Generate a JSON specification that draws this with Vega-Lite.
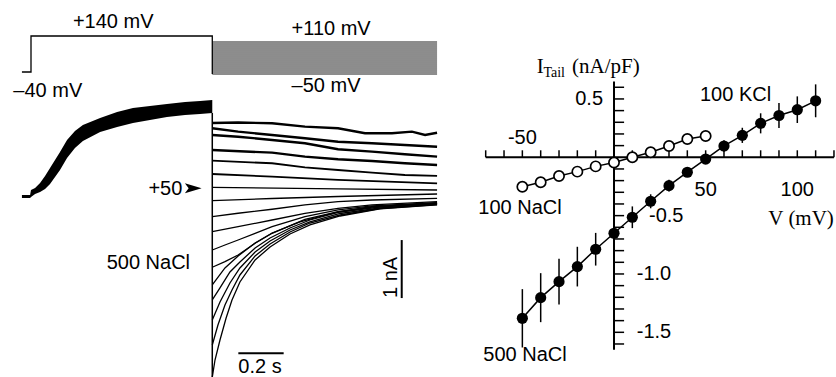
{
  "$schema": "https://vega.github.io/schema/vega-lite/v6.json",
  "padding": 0,
  "autosize": {"type": "pad"},
  "spacing": 0,
  "background": "white",
  "config": {
    "view": {"stroke": null},
    "axis": {"disable": true},
    "text": {"font": "Liberation Sans", "fontSize": 20, "color": "black"}
  },
  "datasets": {
    "step": [
      {"k": 0, "t": -0.04, "v": -40},
      {"k": 1, "t": 0, "v": -40},
      {"k": 2, "t": 0, "v": 140},
      {"k": 3, "t": 0.8, "v": 140},
      {"k": 4, "t": 0.8, "v": -50}
    ],
    "fam": [
      {"v": -50}, {"v": -40}, {"v": -30}, {"v": -20}, {"v": -10}, {"v": 0}, {"v": 10}, {"v": 20}, {"v": 30},
      {"v": 40}, {"v": 50}, {"v": 60}, {"v": 70}, {"v": 80}, {"v": 90}, {"v": 100}, {"v": 110}
    ],
    "plab": [
      {"txt": "+140 mV", "t": 0.185, "v": 178.5},
      {"txt": "–40 mV", "t": -0.078, "v": -163.5},
      {"txt": "+110 mV", "t": 1.15, "v": 145},
      {"txt": "–50 mV", "t": 1.15, "v": -138.5}
    ],
    "band": [
      {"t": -0.040, "lo": -0.034, "hi": 0.017},
      {"t": -0.004, "lo": -0.034, "hi": 0.017},
      {"t": 0.0, "lo": -0.017, "hi": 0.103},
      {"t": 0.018, "lo": 0.034, "hi": 0.138},
      {"t": 0.040, "lo": 0.069, "hi": 0.224},
      {"t": 0.062, "lo": 0.121, "hi": 0.345},
      {"t": 0.084, "lo": 0.207, "hi": 0.483},
      {"t": 0.106, "lo": 0.328, "hi": 0.621},
      {"t": 0.128, "lo": 0.448, "hi": 0.759},
      {"t": 0.159, "lo": 0.655, "hi": 0.966},
      {"t": 0.194, "lo": 0.828, "hi": 1.121},
      {"t": 0.229, "lo": 0.948, "hi": 1.224},
      {"t": 0.305, "lo": 1.103, "hi": 1.345},
      {"t": 0.380, "lo": 1.190, "hi": 1.448},
      {"t": 0.450, "lo": 1.259, "hi": 1.517},
      {"t": 0.525, "lo": 1.310, "hi": 1.552},
      {"t": 0.600, "lo": 1.362, "hi": 1.586},
      {"t": 0.680, "lo": 1.397, "hi": 1.621},
      {"t": 0.746, "lo": 1.414, "hi": 1.638},
      {"t": 0.800, "lo": 1.431, "hi": 1.655}
    ],
    "tails": [
      {"k": "110", "t": 0.800, "i": 1.259}, {"k": "110", "t": 0.914, "i": 1.267}, {"k": "110", "t": 1.064, "i": 1.253},
      {"k": "110", "t": 1.209, "i": 1.195}, {"k": "110", "t": 1.355, "i": 1.167}, {"k": "110", "t": 1.474, "i": 1.081},
      {"k": "110", "t": 1.593, "i": 1.081}, {"k": "110", "t": 1.681, "i": 1.109}, {"k": "110", "t": 1.739, "i": 1.052},
      {"k": "110", "t": 1.792, "i": 1.091},
      {"k": "100", "t": 0.800, "i": 1.167}, {"k": "100", "t": 0.914, "i": 1.109}, {"k": "100", "t": 1.064, "i": 1.052},
      {"k": "100", "t": 1.209, "i": 0.995}, {"k": "100", "t": 1.355, "i": 0.936}, {"k": "100", "t": 1.505, "i": 0.909},
      {"k": "100", "t": 1.650, "i": 0.879}, {"k": "100", "t": 1.792, "i": 0.850},
      {"k": "90", "t": 0.800, "i": 1.052}, {"k": "90", "t": 0.914, "i": 1.022}, {"k": "90", "t": 1.064, "i": 0.966},
      {"k": "90", "t": 1.209, "i": 0.909}, {"k": "90", "t": 1.355, "i": 0.805}, {"k": "90", "t": 1.505, "i": 0.764},
      {"k": "90", "t": 1.650, "i": 0.719}, {"k": "90", "t": 1.792, "i": 0.678},
      {"k": "80", "t": 0.800, "i": 0.793}, {"k": "80", "t": 1.064, "i": 0.747}, {"k": "80", "t": 1.209, "i": 0.678},
      {"k": "80", "t": 1.355, "i": 0.633}, {"k": "80", "t": 1.505, "i": 0.603}, {"k": "80", "t": 1.650, "i": 0.564},
      {"k": "80", "t": 1.792, "i": 0.534},
      {"k": "70", "t": 0.800, "i": 0.609}, {"k": "70", "t": 1.064, "i": 0.564}, {"k": "70", "t": 1.209, "i": 0.495},
      {"k": "70", "t": 1.355, "i": 0.448}, {"k": "70", "t": 1.505, "i": 0.402}, {"k": "70", "t": 1.650, "i": 0.362},
      {"k": "70", "t": 1.792, "i": 0.345},
      {"k": "60", "t": 0.800, "i": 0.379}, {"k": "60", "t": 1.064, "i": 0.333}, {"k": "60", "t": 1.355, "i": 0.276},
      {"k": "60", "t": 1.792, "i": 0.219},
      {"k": "50", "t": 0.800, "i": 0.150}, {"k": "50", "t": 1.355, "i": 0.121}, {"k": "50", "t": 1.792, "i": 0.103},
      {"k": "40", "t": 0.800, "i": -0.081}, {"k": "40", "t": 1.064, "i": -0.043}, {"k": "40", "t": 1.355, "i": -0.009},
      {"k": "40", "t": 1.792, "i": 0.034},
      {"k": "30", "t": 0.800, "i": -0.357}, {"k": "30", "t": 0.914, "i": -0.298}, {"k": "30", "t": 1.064, "i": -0.229},
      {"k": "30", "t": 1.209, "i": -0.155}, {"k": "30", "t": 1.355, "i": -0.098}, {"k": "30", "t": 1.505, "i": -0.069},
      {"k": "30", "t": 1.792, "i": -0.040},
      {"k": "20", "t": 0.800, "i": -0.616}, {"k": "20", "t": 0.914, "i": -0.529}, {"k": "20", "t": 1.064, "i": -0.414},
      {"k": "20", "t": 1.209, "i": -0.298}, {"k": "20", "t": 1.355, "i": -0.212}, {"k": "20", "t": 1.505, "i": -0.155},
      {"k": "20", "t": 1.792, "i": -0.098},
      {"k": "10", "t": 0.800, "i": -0.931}, {"k": "10", "t": 0.856, "i": -0.845}, {"k": "10", "t": 0.914, "i": -0.759},
      {"k": "10", "t": 0.989, "i": -0.643}, {"k": "10", "t": 1.064, "i": -0.529}, {"k": "10", "t": 1.209, "i": -0.357},
      {"k": "10", "t": 1.355, "i": -0.241}, {"k": "10", "t": 1.505, "i": -0.172}, {"k": "10", "t": 1.792, "i": -0.116},
      {"k": "0", "t": 0.800, "i": -1.229}, {"k": "0", "t": 0.856, "i": -1.133}, {"k": "0", "t": 0.914, "i": -1.017},
      {"k": "0", "t": 0.989, "i": -0.816}, {"k": "0", "t": 1.064, "i": -0.643}, {"k": "0", "t": 1.134, "i": -0.529},
      {"k": "0", "t": 1.209, "i": -0.402}, {"k": "0", "t": 1.355, "i": -0.271}, {"k": "0", "t": 1.505, "i": -0.184},
      {"k": "0", "t": 1.792, "i": -0.126},
      {"k": "-10", "t": 0.800, "i": -1.534}, {"k": "-10", "t": 0.856, "i": -1.241}, {"k": "-10", "t": 0.914, "i": -1.034},
      {"k": "-10", "t": 0.989, "i": -0.810}, {"k": "-10", "t": 1.064, "i": -0.638}, {"k": "-10", "t": 1.187, "i": -0.448},
      {"k": "-10", "t": 1.355, "i": -0.276}, {"k": "-10", "t": 1.505, "i": -0.190}, {"k": "-10", "t": 1.792, "i": -0.121},
      {"k": "-20", "t": 0.800, "i": -1.793}, {"k": "-20", "t": 0.834, "i": -1.586}, {"k": "-20", "t": 0.878, "i": -1.310},
      {"k": "-20", "t": 0.922, "i": -1.138}, {"k": "-20", "t": 0.989, "i": -0.897}, {"k": "-20", "t": 1.055, "i": -0.724},
      {"k": "-20", "t": 1.143, "i": -0.552}, {"k": "-20", "t": 1.231, "i": -0.414}, {"k": "-20", "t": 1.364, "i": -0.276},
      {"k": "-20", "t": 1.540, "i": -0.190}, {"k": "-20", "t": 1.792, "i": -0.129},
      {"k": "-30", "t": 0.800, "i": -2.138}, {"k": "-30", "t": 0.834, "i": -1.828}, {"k": "-30", "t": 0.878, "i": -1.500},
      {"k": "-30", "t": 0.922, "i": -1.241}, {"k": "-30", "t": 0.989, "i": -0.966}, {"k": "-30", "t": 1.055, "i": -0.776},
      {"k": "-30", "t": 1.143, "i": -0.586}, {"k": "-30", "t": 1.231, "i": -0.448}, {"k": "-30", "t": 1.364, "i": -0.302},
      {"k": "-30", "t": 1.540, "i": -0.207}, {"k": "-30", "t": 1.792, "i": -0.138},
      {"k": "-40", "t": 0.800, "i": -2.569}, {"k": "-40", "t": 0.825, "i": -2.224}, {"k": "-40", "t": 0.856, "i": -1.879},
      {"k": "-40", "t": 0.887, "i": -1.621}, {"k": "-40", "t": 0.922, "i": -1.362}, {"k": "-40", "t": 0.989, "i": -1.034},
      {"k": "-40", "t": 1.055, "i": -0.828}, {"k": "-40", "t": 1.143, "i": -0.621}, {"k": "-40", "t": 1.231, "i": -0.466},
      {"k": "-40", "t": 1.364, "i": -0.328}, {"k": "-40", "t": 1.540, "i": -0.216}, {"k": "-40", "t": 1.792, "i": -0.147},
      {"k": "-50", "t": 0.800, "i": -3.121}, {"k": "-50", "t": 0.812, "i": -2.828}, {"k": "-50", "t": 0.834, "i": -2.483},
      {"k": "-50", "t": 0.861, "i": -2.103}, {"k": "-50", "t": 0.887, "i": -1.793}, {"k": "-50", "t": 0.922, "i": -1.483},
      {"k": "-50", "t": 0.989, "i": -1.103}, {"k": "-50", "t": 1.055, "i": -0.879}, {"k": "-50", "t": 1.143, "i": -0.655},
      {"k": "-50", "t": 1.231, "i": -0.500}, {"k": "-50", "t": 1.364, "i": -0.345}, {"k": "-50", "t": 1.540, "i": -0.224},
      {"k": "-50", "t": 1.792, "i": -0.155}
    ],
    "edge": [{"t": 0.8, "a": 1.431, "b": -3.121}],
    "bars": [
      {"t": 1.636, "t2": 1.636, "a": -0.76, "b": -1.76},
      {"t": 0.915, "t2": 1.115, "a": -2.712, "b": -2.712}
    ],
    "ilab": [
      {"txt": "+50", "t": 0.518, "i": 0.017},
      {"txt": "500 NaCl", "t": 0.334, "i": -1.264},
      {"txt": "0.2 s", "t": 0.915, "i": -3.052}
    ],
    "arrow": [{"t": 0.716, "i": 0.133}],
    "nalab": [{"txt": "1 nA", "t": 1.615, "i": -1.405}],
    "open": [
      {"v": -50, "i": -0.252}, {"v": -40, "i": -0.214}, {"v": -30, "i": -0.160}, {"v": -20, "i": -0.123},
      {"v": -10, "i": -0.078}, {"v": 0, "i": -0.045}, {"v": 10, "i": 0.0}, {"v": 20, "i": 0.043},
      {"v": 30, "i": 0.097}, {"v": 40, "i": 0.157}, {"v": 50, "i": 0.183}
    ],
    "filled": [
      {"v": -50, "i": -1.380, "lo": -1.630, "hi": -1.130},
      {"v": -40, "i": -1.203, "lo": -1.413, "hi": -0.993},
      {"v": -30, "i": -1.066, "lo": -1.262, "hi": -0.870},
      {"v": -20, "i": -0.937, "lo": -1.107, "hi": -0.767},
      {"v": -10, "i": -0.788, "lo": -0.928, "hi": -0.648},
      {"v": 0, "i": -0.651, "lo": -0.701, "hi": -0.601},
      {"v": 10, "i": -0.514, "lo": -0.607, "hi": -0.421},
      {"v": 20, "i": -0.377, "lo": -0.437, "hi": -0.317},
      {"v": 30, "i": -0.243, "lo": -0.293, "hi": -0.193},
      {"v": 40, "i": -0.128, "lo": -0.168, "hi": -0.088},
      {"v": 50, "i": -0.015, "lo": -0.055, "hi": 0.025},
      {"v": 60, "i": 0.097, "lo": 0.047, "hi": 0.147},
      {"v": 70, "i": 0.188, "lo": 0.123, "hi": 0.253},
      {"v": 80, "i": 0.291, "lo": 0.205, "hi": 0.377},
      {"v": 90, "i": 0.358, "lo": 0.251, "hi": 0.465},
      {"v": 100, "i": 0.408, "lo": 0.294, "hi": 0.522},
      {"v": 110, "i": 0.484, "lo": 0.343, "hi": 0.625}
    ],
    "xaxis": [{"a": -70, "b": 120, "y": 0}],
    "yaxis": [{"x": 0, "a": -1.65, "b": 0.65}],
    "xt": [
      {"v": -70}, {"v": -60}, {"v": -50}, {"v": -40}, {"v": -30}, {"v": -20}, {"v": -10}, {"v": 10}, {"v": 20}, {"v": 30},
      {"v": 40}, {"v": 50}, {"v": 60}, {"v": 70}, {"v": 80}, {"v": 90}, {"v": 100}, {"v": 110}, {"v": 120}
    ],
    "yt": [
      {"i": -1.6}, {"i": -1.5}, {"i": -1.4}, {"i": -1.3}, {"i": -1.2}, {"i": -1.1}, {"i": -1.0}, {"i": -0.9}, {"i": -0.8},
      {"i": -0.7}, {"i": -0.6}, {"i": -0.5}, {"i": -0.4}, {"i": -0.3}, {"i": -0.2}, {"i": -0.1}, {"i": 0.1}, {"i": 0.2},
      {"i": 0.3}, {"i": 0.4}, {"i": 0.5}, {"i": 0.6}
    ],
    "rleft": [
      {"txt": "100 KCl", "v": 46.9, "i": 0.534},
      {"txt": "100 NaCl", "v": -74, "i": -0.437},
      {"txt": "500 NaCl", "v": -71.3, "i": -1.694},
      {"txt": "-0.5", "v": 19.1, "i": -0.5},
      {"txt": "-1.0", "v": 12.4, "i": -1.0},
      {"txt": "-1.5", "v": 12.4, "i": -1.5}
    ],
    "rright": [{"txt": "0.5", "v": -6, "i": 0.5}],
    "rcenter": [
      {"txt": "-50", "v": -50, "i": 0.163},
      {"txt": "50", "v": 50, "i": -0.28},
      {"txt": "100", "v": 100, "i": -0.28}
    ],
    "serifBig": [
      {"txt": "I", "v": -42.2, "i": 0.72},
      {"txt": "(nA/pF)", "v": -22.9, "i": 0.72}
    ],
    "serifSub": [{"txt": "Tail", "v": -38.5, "i": 0.688}],
    "vlab": [{"txt": "V (mV)", "v": 84.2, "i": -0.529}]
  },
  "hconcat": [
    {
      "width": 440,
      "height": 377,
      "layer": [
        {
          "layer": [
            {
              "data": {"name": "fam"},
              "mark": {"type": "rule", "color": "black", "strokeWidth": 0.9},
              "encoding": {
                "x": {"datum": 0.8, "type": "quantitative", "scale": {"domain": [-0.13681, 1.80494], "nice": false, "zero": false}},
                "x2": {"datum": 1.792},
                "y": {"field": "v", "type": "quantitative", "scale": {"domain": [-1565, 320], "nice": false, "zero": false}}
              }
            },
            {
              "data": {"name": "step"},
              "mark": {"type": "line", "color": "black", "strokeWidth": 1.3},
              "encoding": {
                "x": {"field": "t", "type": "quantitative"},
                "y": {"field": "v", "type": "quantitative"},
                "order": {"field": "k"}
              }
            },
            {
              "data": {"name": "plab"},
              "mark": {"type": "text", "align": "left", "baseline": "alphabetic"},
              "encoding": {
                "x": {"field": "t", "type": "quantitative"},
                "y": {"field": "v", "type": "quantitative"},
                "text": {"field": "txt"}
              }
            }
          ]
        },
        {
          "layer": [
            {
              "data": {"name": "band"},
              "mark": {"type": "area", "color": "black"},
              "encoding": {
                "x": {"field": "t", "type": "quantitative", "scale": {"domain": [-0.13681, 1.80494], "nice": false, "zero": false}},
                "y": {"field": "lo", "type": "quantitative", "scale": {"domain": [-3.121, 3.379], "nice": false, "zero": false}},
                "y2": {"field": "hi"}
              }
            },
            {
              "data": {"name": "tails"},
              "transform": [{"filter": {"field": "k", "oneOf": ["110", "100", "90", "80"]}}],
              "mark": {"type": "line", "color": "black", "strokeWidth": 2.4, "clip": true},
              "encoding": {
                "x": {"field": "t", "type": "quantitative"},
                "y": {"field": "i", "type": "quantitative"},
                "detail": {"field": "k"}
              }
            },
            {
              "data": {"name": "tails"},
              "transform": [{"filter": {"field": "k", "oneOf": ["70", "60"]}}],
              "mark": {"type": "line", "color": "black", "strokeWidth": 1.8, "clip": true},
              "encoding": {
                "x": {"field": "t", "type": "quantitative"},
                "y": {"field": "i", "type": "quantitative"},
                "detail": {"field": "k"}
              }
            },
            {
              "data": {"name": "tails"},
              "transform": [{"filter": {"not": {"field": "k", "oneOf": ["110", "100", "90", "80", "70", "60"]}}}],
              "mark": {"type": "line", "color": "black", "strokeWidth": 1.3, "clip": true},
              "encoding": {
                "x": {"field": "t", "type": "quantitative"},
                "y": {"field": "i", "type": "quantitative"},
                "detail": {"field": "k"}
              }
            },
            {
              "data": {"name": "edge"},
              "mark": {"type": "rule", "color": "black", "strokeWidth": 1.5},
              "encoding": {
                "x": {"field": "t", "type": "quantitative"},
                "y": {"field": "a", "type": "quantitative"},
                "y2": {"field": "b"}
              }
            },
            {
              "data": {"name": "bars"},
              "mark": {"type": "rule", "color": "black", "strokeWidth": 2},
              "encoding": {
                "x": {"field": "t", "type": "quantitative"},
                "x2": {"field": "t2"},
                "y": {"field": "a", "type": "quantitative"},
                "y2": {"field": "b"}
              }
            },
            {
              "data": {"name": "ilab"},
              "mark": {"type": "text", "align": "left", "baseline": "alphabetic"},
              "encoding": {
                "x": {"field": "t", "type": "quantitative"},
                "y": {"field": "i", "type": "quantitative"},
                "text": {"field": "txt"}
              }
            },
            {
              "data": {"name": "nalab"},
              "mark": {"type": "text", "align": "center", "baseline": "alphabetic", "angle": 270},
              "encoding": {
                "x": {"field": "t", "type": "quantitative"},
                "y": {"field": "i", "type": "quantitative"},
                "text": {"field": "txt"}
              }
            },
            {
              "data": {"name": "arrow"},
              "mark": {"type": "point", "shape": "M-1,-0.6L1,0L-1,0.6L-0.55,0Z", "filled": true, "color": "black", "opacity": 1, "size": 280},
              "encoding": {
                "x": {"field": "t", "type": "quantitative"},
                "y": {"field": "i", "type": "quantitative"}
              }
            }
          ]
        }
      ],
      "resolve": {"scale": {"y": "independent"}}
    },
    {
      "width": 396,
      "height": 377,
      "layer": [
        {
          "data": {"name": "xaxis"},
          "mark": {"type": "rule", "color": "black", "strokeWidth": 2},
          "encoding": {
            "x": {"field": "a", "type": "quantitative", "scale": {"domain": [-94.93, 121.11], "nice": false, "zero": false}},
            "x2": {"field": "b"},
            "y": {"field": "y", "type": "quantitative", "scale": {"domain": [-1.883, 1.348], "nice": false, "zero": false}}
          }
        },
        {
          "data": {"name": "yaxis"},
          "mark": {"type": "rule", "color": "black", "strokeWidth": 2},
          "encoding": {
            "x": {"field": "x", "type": "quantitative"},
            "y": {"field": "a", "type": "quantitative"},
            "y2": {"field": "b"}
          }
        },
        {
          "data": {"name": "xt"},
          "mark": {"type": "rule", "color": "black", "strokeWidth": 1.5},
          "encoding": {
            "x": {"field": "v", "type": "quantitative"},
            "y": {"datum": 0, "type": "quantitative"},
            "y2": {"datum": 0.06}
          }
        },
        {
          "data": {"name": "yt"},
          "mark": {"type": "rule", "color": "black", "strokeWidth": 1.5},
          "encoding": {
            "y": {"field": "i", "type": "quantitative"},
            "x": {"datum": 0, "type": "quantitative"},
            "x2": {"datum": 5.5}
          }
        },
        {
          "data": {"name": "open"},
          "mark": {"type": "line", "color": "black", "strokeWidth": 1.5},
          "encoding": {
            "x": {"field": "v", "type": "quantitative"},
            "y": {"field": "i", "type": "quantitative"}
          }
        },
        {
          "data": {"name": "filled"},
          "mark": {"type": "line", "color": "black", "strokeWidth": 1.5},
          "encoding": {
            "x": {"field": "v", "type": "quantitative"},
            "y": {"field": "i", "type": "quantitative"}
          }
        },
        {
          "data": {"name": "filled"},
          "mark": {"type": "rule", "color": "black", "strokeWidth": 1.5},
          "encoding": {
            "x": {"field": "v", "type": "quantitative"},
            "y": {"field": "lo", "type": "quantitative"},
            "y2": {"field": "hi"}
          }
        },
        {
          "data": {"name": "open"},
          "mark": {"type": "point", "shape": "circle", "filled": true, "fill": "white", "stroke": "black", "strokeWidth": 1.7, "size": 105, "opacity": 1},
          "encoding": {
            "x": {"field": "v", "type": "quantitative"},
            "y": {"field": "i", "type": "quantitative"}
          }
        },
        {
          "data": {"name": "filled"},
          "mark": {"type": "point", "shape": "circle", "filled": true, "color": "black", "size": 125, "opacity": 1},
          "encoding": {
            "x": {"field": "v", "type": "quantitative"},
            "y": {"field": "i", "type": "quantitative"}
          }
        },
        {
          "data": {"name": "rleft"},
          "mark": {"type": "text", "align": "left", "baseline": "middle"},
          "encoding": {
            "x": {"field": "v", "type": "quantitative"},
            "y": {"field": "i", "type": "quantitative"},
            "text": {"field": "txt"}
          }
        },
        {
          "data": {"name": "rright"},
          "mark": {"type": "text", "align": "right", "baseline": "middle"},
          "encoding": {
            "x": {"field": "v", "type": "quantitative"},
            "y": {"field": "i", "type": "quantitative"},
            "text": {"field": "txt"}
          }
        },
        {
          "data": {"name": "rcenter"},
          "mark": {"type": "text", "align": "center", "baseline": "middle"},
          "encoding": {
            "x": {"field": "v", "type": "quantitative"},
            "y": {"field": "i", "type": "quantitative"},
            "text": {"field": "txt"}
          }
        },
        {
          "data": {"name": "serifBig"},
          "mark": {"type": "text", "align": "left", "baseline": "alphabetic", "font": "Liberation Serif", "fontSize": 21},
          "encoding": {
            "x": {"field": "v", "type": "quantitative"},
            "y": {"field": "i", "type": "quantitative"},
            "text": {"field": "txt"}
          }
        },
        {
          "data": {"name": "serifSub"},
          "mark": {"type": "text", "align": "left", "baseline": "alphabetic", "font": "Liberation Serif", "fontSize": 14},
          "encoding": {
            "x": {"field": "v", "type": "quantitative"},
            "y": {"field": "i", "type": "quantitative"},
            "text": {"field": "txt"}
          }
        },
        {
          "data": {"name": "vlab"},
          "mark": {"type": "text", "align": "left", "baseline": "middle", "font": "Liberation Serif", "fontSize": 21},
          "encoding": {
            "x": {"field": "v", "type": "quantitative"},
            "y": {"field": "i", "type": "quantitative"},
            "text": {"field": "txt"}
          }
        }
      ]
    }
  ]
}
